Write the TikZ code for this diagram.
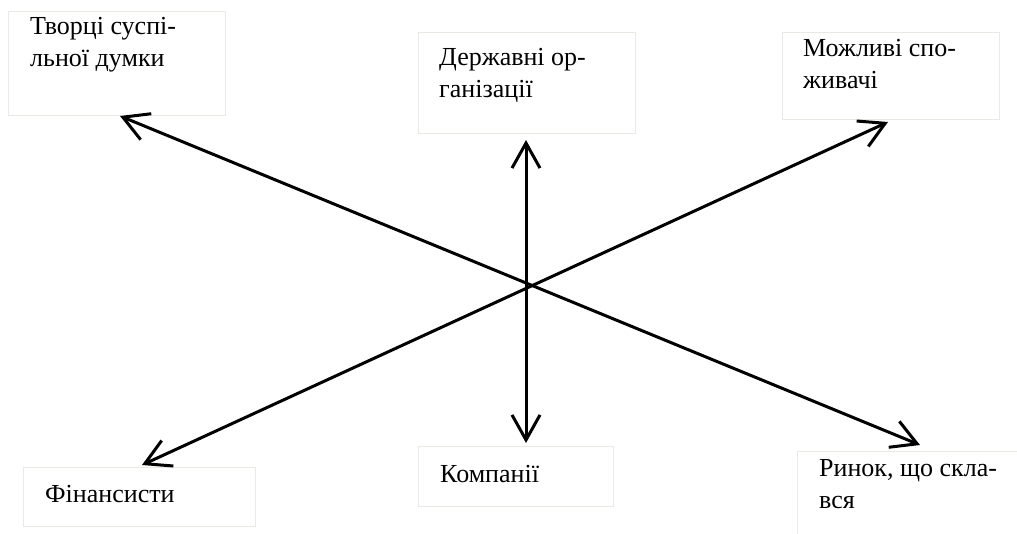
\documentclass[tikz,border=0pt]{standalone}
\usepackage{fontspec}
\setmainfont{Liberation Serif}
\usetikzlibrary{arrows.meta}
\definecolor{boxline}{RGB}{234,234,228}
\begin{document}
\begin{tikzpicture}[x=1pt,y=-1pt,
  box/.style={draw=boxline, line width=1.3pt, anchor=north west, inner sep=0pt},
  lbl/.style={anchor=base west, inner sep=0pt, font=\fontsize{26}{31.5}\selectfont, align=left},
  arr/.style={line width=3pt, {Straight Barb[length=25pt,width=28pt]}-{Straight Barb[length=25pt,width=28pt]}}]
\clip (0,0) rectangle (1017,533);
\fill[white] (0,0) rectangle (1017,533);
% boxes
\node[box, minimum width=217pt, minimum height=104pt] (b1) at (8,11) {};
\node[box, minimum width=217pt, minimum height=101pt] (b2) at (418,32) {};
\node[box, minimum width=217pt, minimum height=87pt] (b3) at (782,32) {};
\node[box, minimum width=232pt, minimum height=59pt] (b4) at (23,467) {};
\node[box, minimum width=195pt, minimum height=60pt] (b5) at (418,446) {};
\node[box, minimum width=240pt, minimum height=100pt] (b6) at (797,451) {};
% labels (base = last line)
\node[lbl] (t1) at (30,66) {Творці суспі-\\льної думки};
\node[lbl] (t2) at (439,97) {Державні ор-\\ганізації};
\node[lbl] (t3) at (803,88) {Можливі спо-\\живачі};
\node[lbl] (t4) at (45,502) {Фінансисти};
\node[lbl] (t5) at (440,482) {Компанії};
\node[lbl] (t6) at (819,508) {Ринок, що скла-\\вся};
% arrow ends
\coordinate (p1) at (120,116);
\coordinate (p6) at (920,445);
\coordinate (p2) at (526,140);
\coordinate (p5) at (526,443);
\coordinate (p3) at (888,122);
\coordinate (p4) at (142,465);
\draw[arr] (p1) -- (p6);
\draw[arr] (p2) -- (p5);
\draw[arr] (p3) -- (p4);
\end{tikzpicture}
\end{document}
